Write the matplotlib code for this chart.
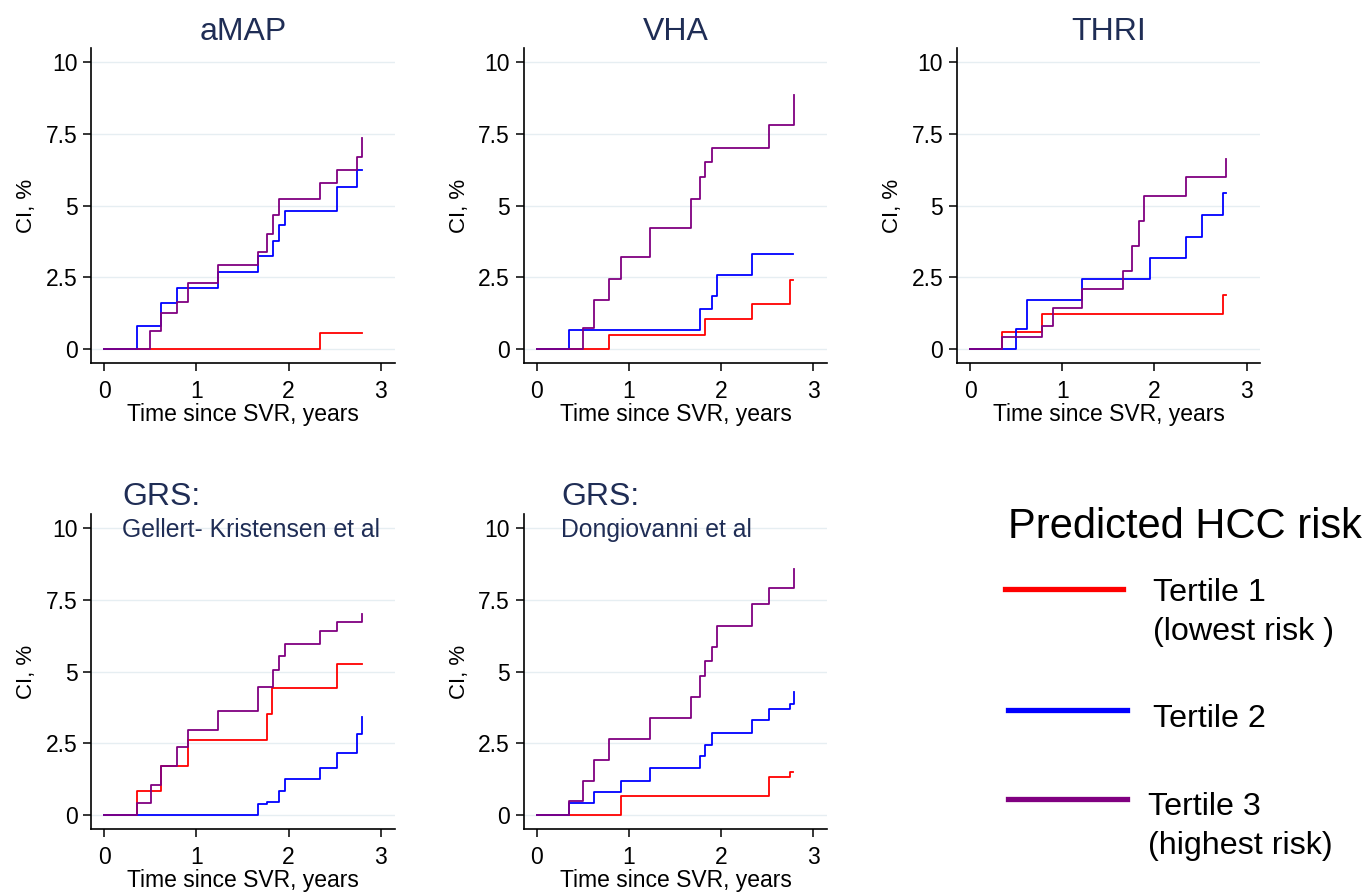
import matplotlib
matplotlib.use("Agg")
import matplotlib.pyplot as plt
from matplotlib.lines import Line2D

plt.rcParams['font.family'] = ['Liberation Sans', 'DejaVu Sans']

W, H = 1368, 893

panel_titles = ["aMAP", "VHA", "THRI", "GRS:", "GRS:"]
panel_subtitles = [None, None, None, "Gellert- Kristensen et al", "Dongiovanni et al"]

# Tertile 1 (red), Tertile 2 (blue), Tertile 3 (purple): step times (years) and CI (%)
amap_t1_t = [0, 2.34, 2.79]
amap_t1_v = [0, 0.56, 0.56]
amap_t2_t = [0, 0.357, 0.62, 0.787, 1.23, 1.67, 1.83, 1.90, 1.96, 2.52, 2.74, 2.79]
amap_t2_v = [0, 0.80, 1.60, 2.13, 2.70, 3.23, 3.78, 4.31, 4.83, 5.66, 6.24, 6.24]
amap_t3_t = [0, 0.50, 0.62, 0.787, 0.91, 1.23, 1.67, 1.76, 1.83, 1.90, 2.34, 2.52, 2.74, 2.79]
amap_t3_v = [0, 0.62, 1.25, 1.64, 2.30, 2.93, 3.37, 4.02, 4.67, 5.23, 5.80, 6.24, 6.69, 7.34]

vha_t1_t = [0, 0.78, 1.83, 2.34, 2.75, 2.78]
vha_t1_v = [0, 0.50, 1.04, 1.57, 2.41, 2.41]
vha_t2_t = [0, 0.354, 1.77, 1.90, 1.96, 2.34, 2.78]
vha_t2_v = [0, 0.67, 1.39, 1.87, 2.59, 3.32, 3.32]
vha_t3_t = [0, 0.505, 0.617, 0.78, 0.91, 1.23, 1.67, 1.77, 1.83, 1.90, 2.52, 2.79]
vha_t3_v = [0, 0.74, 1.72, 2.46, 3.21, 4.21, 5.23, 6.01, 6.51, 7.02, 7.82, 8.85]

thri_t1_t = [0, 0.35, 0.78, 2.74, 2.78]
thri_t1_v = [0, 0.59, 1.23, 1.88, 1.88]
thri_t2_t = [0, 0.50, 0.62, 1.22, 1.95, 2.34, 2.52, 2.74, 2.78]
thri_t2_v = [0, 0.71, 1.71, 2.44, 3.17, 3.92, 4.66, 5.44, 5.44]
thri_t3_t = [0, 0.35, 0.78, 0.90, 1.22, 1.66, 1.76, 1.83, 1.89, 2.34, 2.78]
thri_t3_v = [0, 0.41, 0.82, 1.45, 2.08, 2.73, 3.60, 4.45, 5.35, 6.00, 6.64]

gk_t1_t = [0, 0.354, 0.62, 0.91, 1.76, 1.82, 2.52, 2.79]
gk_t1_v = [0, 0.86, 1.73, 2.62, 3.52, 4.43, 5.27, 5.27]
gk_t2_t = [0, 1.67, 1.76, 1.90, 1.96, 2.34, 2.52, 2.74, 2.79]
gk_t2_v = [0, 0.38, 0.46, 0.86, 1.25, 1.64, 2.15, 2.82, 3.41]
gk_t3_t = [0, 0.354, 0.505, 0.62, 0.787, 0.91, 1.23, 1.67, 1.83, 1.90, 1.96, 2.34, 2.52, 2.79]
gk_t3_v = [0, 0.41, 1.06, 1.73, 2.36, 2.98, 3.64, 4.46, 5.06, 5.54, 5.95, 6.40, 6.72, 7.00]

dg_t1_t = [0, 0.91, 2.52, 2.75, 2.78]
dg_t1_v = [0, 0.66, 1.33, 1.51, 1.51]
dg_t2_t = [0, 0.354, 0.617, 0.91, 1.23, 1.77, 1.83, 1.90, 2.34, 2.52, 2.75, 2.79]
dg_t2_v = [0, 0.42, 0.80, 1.20, 1.64, 2.06, 2.44, 2.86, 3.30, 3.70, 3.87, 4.28]
dg_t3_t = [0, 0.354, 0.505, 0.617, 0.78, 1.23, 1.67, 1.77, 1.83, 1.90, 1.96, 2.34, 2.52, 2.79]
dg_t3_v = [0, 0.49, 1.20, 1.94, 2.66, 3.37, 4.12, 4.85, 5.37, 5.85, 6.58, 7.34, 7.91, 8.56]

panels = [
    [(amap_t1_t, amap_t1_v), (amap_t2_t, amap_t2_v), (amap_t3_t, amap_t3_v)],
    [(vha_t1_t, vha_t1_v), (vha_t2_t, vha_t2_v), (vha_t3_t, vha_t3_v)],
    [(thri_t1_t, thri_t1_v), (thri_t2_t, thri_t2_v), (thri_t3_t, thri_t3_v)],
    [(gk_t1_t, gk_t1_v), (gk_t2_t, gk_t2_v), (gk_t3_t, gk_t3_v)],
    [(dg_t1_t, dg_t1_v), (dg_t2_t, dg_t2_v), (dg_t3_t, dg_t3_v)],
]

legend_title = "Predicted HCC risk"
legend_labels = ["Tertile 1\n(lowest risk )", "Tertile 2", "Tertile 3\n(highest risk)"]
colors = ["#FF0000", "#0000FF", "#800080"]

yticks = [0, 2.5, 5, 7.5, 10]
ytick_labels = ["0", "2.5", "5", "7.5", "10"]
xticks = [0, 1, 2, 3]
xlim = (-0.14, 3.15)
ylim = (-0.48, 10.49)

title_color = "#1F2D55"

fig = plt.figure(figsize=(W / 100, H / 100), dpi=100)

# axes boxes in pixels: left, top, right, bottom
boxes = [
    (91.4, 48, 394.7, 363),
    (523.8, 48, 827.1, 363),
    (957.1, 48, 1260.4, 363),
    (91.4, 514, 394.7, 829),
    (523.8, 514, 827.1, 829),
]
grs_x = {3: 122, 4: 561}

for i, (box, series) in enumerate(zip(boxes, panels)):
    l, t, r, b = box
    ax = fig.add_axes([l / W, 1 - b / H, (r - l) / W, (b - t) / H])
    for yv in yticks:
        ax.axhline(yv, color="#E6EEF2", lw=1.0, zorder=0)
    for (tt, vv), c in zip(series, colors):
        ax.plot(tt, vv, drawstyle="steps-post", color=c, lw=1.3, zorder=2)
    ax.set_xlim(*xlim)
    ax.set_ylim(*ylim)
    ax.set_xticks(xticks)
    ax.set_yticks(yticks)
    ax.set_yticklabels(ytick_labels)
    for s in ["top", "right"]:
        ax.spines[s].set_visible(False)
    for s in ["left", "bottom"]:
        ax.spines[s].set_linewidth(1.2)
    ax.tick_params(axis="both", direction="out", length=6, width=1.1, labelsize=16.5, colors="black")
    ax.tick_params(axis="x", pad=6)
    ax.tick_params(axis="y", pad=4)
    ax.set_xlabel("Time since SVR, years", fontsize=16.5, labelpad=0)
    ax.set_ylabel("CI, %", fontsize=16, labelpad=6)
    ax.patch.set_alpha(0)
    cx = (l + r) / 2
    if panel_subtitles[i] is None:
        fig.text(cx / W, 1 - 39.5 / H, panel_titles[i], ha="center", va="baseline",
                 fontsize=23, color=title_color)
    else:
        gx = grs_x[i]
        fig.text(gx / W, 1 - 505 / H, panel_titles[i], ha="left", va="baseline",
                 fontsize=23, color=title_color)
        fig.text(gx / W, 1 - 537 / H, panel_subtitles[i], ha="left", va="baseline",
                 fontsize=17.8, color=title_color)

# Legend
fig.text(1008 / W, 1 - 538 / H, legend_title, ha="left", va="baseline", fontsize=30, color="black")
leg_lines_y = [589, 710, 799]
leg_lines_x = [(1005, 1123), (1008, 1127), (1008, 1127)]
leg_text_pos = [(1153, 601), (1153, 727), (1148, 815)]
for c, ly, (x0, x1), lab, (tx, ty) in zip(colors, leg_lines_y, leg_lines_x, legend_labels, leg_text_pos):
    fig.add_artist(Line2D([x0 / W, x1 / W], [1 - ly / H, 1 - ly / H], color=c, lw=3.8,
                          transform=fig.transFigure))
    parts = lab.split("\n")
    for k, p in enumerate(parts):
        fig.text(tx / W, 1 - (ty + 39 * k) / H, p, ha="left", va="baseline", fontsize=23.2, color="black")

fig.savefig("out.png", dpi=100)
